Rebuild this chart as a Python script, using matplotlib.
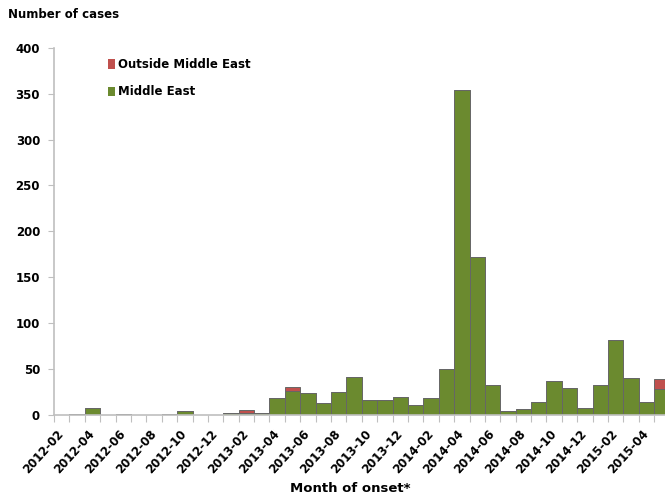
import matplotlib.pyplot as plt
import numpy as np

plt.rcParams['font.family'] = ['Liberation Sans Narrow', 'DejaVu Sans']

# months of onset, Feb 2012 to May 2015
months = []
for y in range(2012, 2016):
    for m in range(1, 13):
        if (y == 2012 and m < 2) or (y == 2015 and m > 5):
            continue
        months.append(f"{y}-{m:02d}")

middle_east = [0, 1, 8, 0, 1, 0, 0, 1, 4, 0, 0,
               2, 2, 2, 19, 26, 24, 13, 25, 41, 16, 16, 20,
               11, 18, 50, 354, 172, 33, 4, 6, 14, 37, 29, 8,
               33, 82, 40, 14, 28]
outside = [0, 0, 0, 0, 0, 0, 0, 0, 0, 0, 0,
           0, 3, 0, 0, 4, 0, 0, 0, 0, 0, 0, 0,
           0, 0, 0, 0, 0, 0, 0, 0, 0, 0, 0, 0,
           0, 0, 0, 0, 11]

green = '#6b8a2f'
red = '#c0504d'
axcol = '#bfbfbf'
edge = '#666666'

fig = plt.figure(figsize=(6.65, 4.96), dpi=100)
ax = fig.add_axes([54/665, 81/496, 615.6/665, 367.3/496])

x = np.arange(len(months))
ax.bar(x, middle_east, width=1.0, color=green, edgecolor=edge, linewidth=0.7,
       label='Middle East')
ax.bar(x, outside, width=1.0, bottom=middle_east, color=red, edgecolor=edge,
       linewidth=0.7, label='Outside Middle East')

ax.set_xlim(-0.5, len(months) - 0.5)
ax.set_ylim(0, 400)

for s in ['top', 'right']:
    ax.spines[s].set_visible(False)
for s in ['left', 'bottom']:
    ax.spines[s].set_color(axcol)
    ax.spines[s].set_linewidth(1.2)

ax.set_yticks(range(0, 401, 50))
ax.tick_params(axis='y', length=4, color=axcol, labelsize=8.5, pad=6)
for lab in ax.get_yticklabels():
    lab.set_fontweight('bold')

# tick marks at category boundaries, labels at centres of every second month
ax.set_xticks(np.arange(len(months) + 1) - 0.5)
ax.set_xticklabels([])
ax.tick_params(axis='x', which='major', length=5, color=axcol)
ax.set_xticks(x[::2], minor=True)
ax.set_xticklabels(months[::2], minor=True, rotation=48, ha='right', va='center',
                   rotation_mode='anchor', fontsize=8.5, fontweight='bold')
ax.tick_params(axis='x', which='minor', length=0, pad=12)

fig.text(8/665, 1 - 15/496, 'Number of cases', fontsize=8.5, fontweight='bold',
         va='center', ha='left')
fig.text(350/665, 1 - 488/496, 'Month of onset*', fontsize=9.5, fontweight='bold',
         va='center', ha='center')

handles, labels = ax.get_legend_handles_labels()
leg = ax.legend(handles[::-1], labels[::-1], loc='upper left',
                bbox_to_anchor=(0.07, 1.0), frameon=False, fontsize=8.5,
                handlelength=0.6, handleheight=0.9, handletextpad=0.3,
                labelspacing=1.2)
for t in leg.get_texts():
    t.set_fontweight('bold')
for h in leg.legend_handles:
    h.set_edgecolor('none')

fig.savefig('out.png', dpi=100)
